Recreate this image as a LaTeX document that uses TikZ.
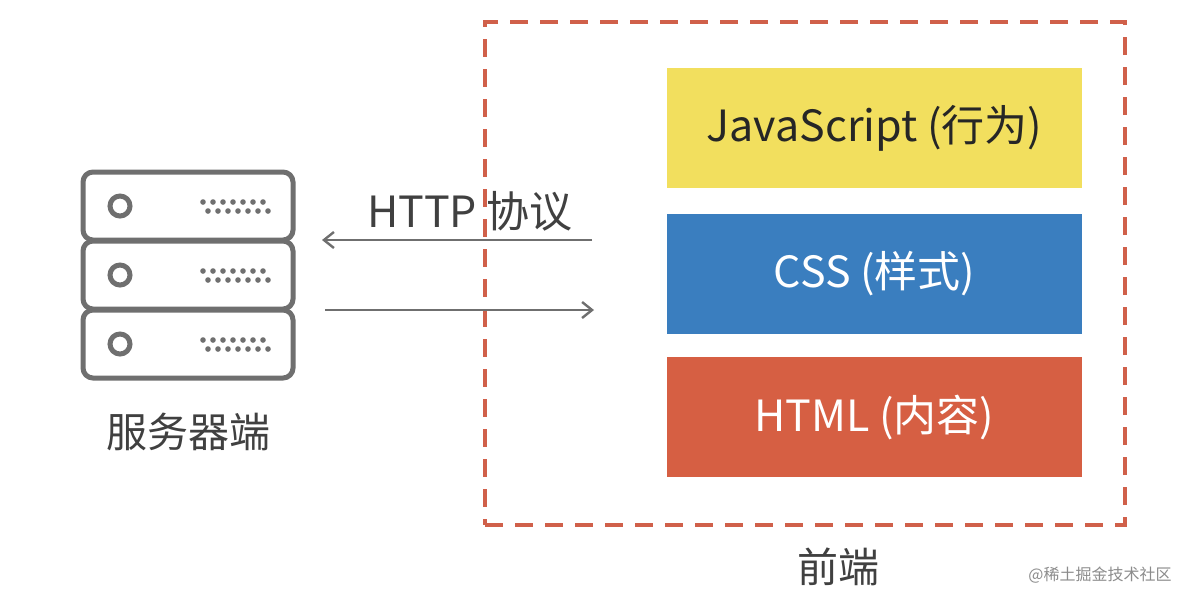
\documentclass[tikz,border=0pt]{standalone}
\usepackage{fontspec}
\usetikzlibrary{arrows.meta}
\setmainfont{Noto Sans CJK SC}
\definecolor{dashred}{HTML}{D0604A}
\definecolor{jsy}{HTML}{F2DF5E}
\definecolor{cssb}{HTML}{3A7EBF}
\definecolor{htmlr}{HTML}{D65F43}
\definecolor{srv}{HTML}{6F6F6F}
\begin{document}
\begin{tikzpicture}[x=0.5pt,y=-0.5pt,
  layer/.style={draw=none,minimum width=207.5pt,minimum height=60pt,inner sep=0pt,font=\fontsize{21.5}{24}\selectfont},
  unit/.style={draw=srv,line width=2.5pt,rounded corners=5pt,minimum width=105pt,minimum height=34pt,inner sep=0pt},
  lbl/.style={text=black!75,font=\fontsize{20.5}{24}\selectfont},
  arr/.style={draw=srv,line width=1.2pt,-{Straight Barb[length=5pt,width=8pt]}}]
\useasboundingbox (0,0) rectangle (1198,602);
\fill[white] (0,0) rectangle (1198,602);
\node[draw=dashred,line width=1.6pt,dash pattern=on 9pt off 6pt,minimum width=320pt,minimum height=251.5pt,inner sep=0pt] (fe) at (805,273.5) {};
\node[layer,fill=jsy,text=black!85] (js) at (874.5,128) {JavaScript (行为)};
\node[layer,fill=cssb,text=white] (css) at (874.5,274) {CSS (样式)};
\node[layer,fill=htmlr,text=white] (html) at (874.5,417) {HTML (内容)};
\node[lbl] (felbl) at (838,567) {前端};
\foreach \i/\y in {1/206,2/275,3/344}{
  \node[unit] (u\i) at (188,\y) {};
  \draw[srv,line width=2.5pt] (120,\y) circle (5pt);
  \foreach \k in {0,...,6}{
    \fill[srv] (203+\k*10,\y-4) circle (1.4pt);
    \fill[srv] (208+\k*10,\y+5) circle (1.4pt);
  }
}
\node[lbl] (srvlbl) at (188,432) {服务器端};
\node[lbl,font=\fontsize{21.5}{24}\selectfont] (http) at (470,211) {HTTP 协议};
\coordinate (a1s) at (592,240);
\coordinate (a1e) at (322,240);
\coordinate (a2s) at (325,310);
\coordinate (a2e) at (594,310);
\draw[arr] (a1s) -- (a1e);
\draw[arr] (a2s) -- (a2e);
\node[text=black!45,font=\fontsize{8}{10}\selectfont] (wm) at (1100,575) {@稀土掘金技术社区};
\end{tikzpicture}
\end{document}
